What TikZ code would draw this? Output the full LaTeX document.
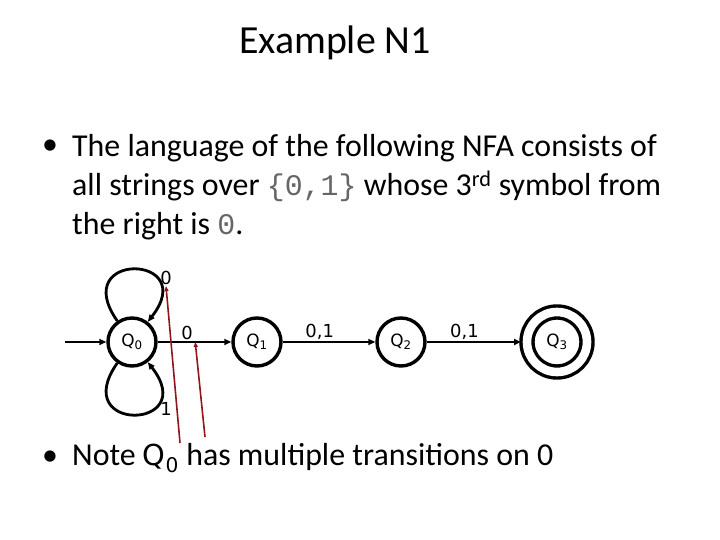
\documentclass[tikz,border=0pt]{standalone}
\usepackage{fontspec}
\setmainfont{Carlito}
\setmonofont{Liberation Mono}
\newfontfamily\statefont{DejaVu Sans}
\usetikzlibrary{arrows.meta,positioning}
\definecolor{dRed}{RGB}{145,22,28}

\begin{document}
\begin{tikzpicture}[x=1bp,y=1bp,
  st/.style={draw,circle,line width=3.4bp,minimum size=48bp,inner sep=0pt,
    font=\statefont\fontsize{17}{17}\selectfont},
  acc/.style={double,double distance=8.6bp,minimum size=60bp,outer sep=6bp},
  tr/.style={-{Triangle[length=7bp,width=6bp]},line width=2.8bp},
  lab/.style={font=\statefont\fontsize{18}{18}\selectfont,inner sep=1bp},
  note/.style={-{Triangle[length=5bp,width=4bp]},line width=1.6bp,dRed},
  body/.style={font=\fontsize{32}{39}\selectfont}]
  \useasboundingbox (0,0) rectangle (720,540);
  % heading and first bullet
  \node[anchor=base,font=\fontsize{40}{48}\selectfont] (title) at (335,486) {Example N1};
  \node[body,anchor=base] (b1) at (50,385) {\textbullet};
  \node[body,anchor=north west,align=left,inner sep=0pt] (txt) at (72,406)
    {The language of the following NFA consists of\\
     all strings over {\ttfamily\fontsize{30}{39}\selectfont\color{black!60}\{0,1\}} whose 3\textsuperscript{rd} symbol from\\
     the right is {\ttfamily\fontsize{30}{39}\selectfont\color{black!60}0}.};
  % states
  \node[st] (q0) at (132,198) {Q\textsubscript{0}};
  \node[st] (q1) at (257,198) {Q\textsubscript{1}};
  \node[st] (q2) at (401,198) {Q\textsubscript{2}};
  \node[st,acc] (q3) at (557,198) {Q\textsubscript{3}};
  \coordinate (start) at (65,198);
  % transitions
  \draw[tr] (start) -- (q0);
  \draw[tr] (q0) -- node[lab,above,pos=0.4] (e01) {0} (q1);
  \draw[tr] (q1) -- node[lab,above,pos=0.4] (e12) {0,1} (q2);
  \draw[tr] (q2) -- node[lab,above,pos=0.4] (e23) {0,1} (q3);
  \draw[tr] (q0) to[out=125,in=52,looseness=7.2] (q0);
  \draw[tr] (q0) to[out=-125,in=-52,looseness=7.2] (q0);
  \node[lab] (l0) at (166,262) {0};
  \node[lab] (l1) at (166,131) {1};
  % red pointers
  \coordinate (p1) at (180,97);
  \coordinate (p2) at (205,103);
  \draw[note] (p1) -- (l0.south);
  \draw[note] (p2) -- (e01.south east);
  % second bullet
  \node[body,anchor=base] (b2) at (50,74) {\textbullet};
  \node[body,anchor=base west,inner sep=0pt] (txt2) at (72,74)
    {Note {\statefont\fontsize{29}{29}\selectfont Q\textsubscript{0}} has multiple transitions on 0};
\end{tikzpicture}
\end{document}
